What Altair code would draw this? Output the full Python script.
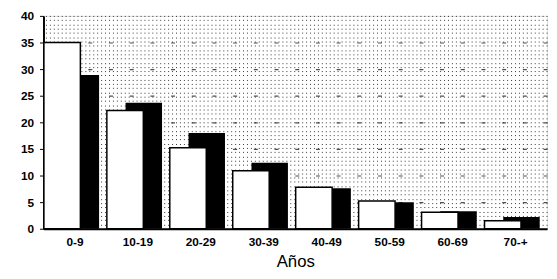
import altair as alt
import pandas as pd

categorias = ["0-9", "10-19", "20-29", "30-39", "40-49", "50-59", "60-69", "70-+"]
serie_blanca = [35.0, 22.2, 15.2, 10.9, 7.8, 5.2, 3.1, 1.5]
serie_negra = [28.9, 23.7, 18.0, 12.4, 7.6, 5.0, 3.3, 2.2]

df = pd.DataFrame({"cat": categorias, "blanca": serie_blanca, "negra": serie_negra})

FONT = "Liberation Sans"
xenc = alt.X("cat:N", sort=categorias, title="Años",
             scale=alt.Scale(paddingInner=0, paddingOuter=0),
             axis=alt.Axis(labelAngle=0, labelFont=FONT, labelFontSize=12, labelFontWeight="bold",
                           labelColor="black", titleFont=FONT, titleFontSize=17,
                           titleFontWeight="normal", titleColor="black", titlePadding=6,
                           ticks=False, domainColor="black", domainWidth=2, labelPadding=8))
yscale = alt.Scale(domain=[0, 40], nice=False)

dots = alt.Chart(df).mark_bar(opacity=0).encode(
    x=xenc,
    y=alt.Y("negra:Q", scale=yscale,
            axis=alt.Axis(orient="right", labels=False, ticks=False, domain=False, title=None,
                          values=[i * 0.8 for i in range(51)], grid=True, gridColor="#000",
                          gridDash=[1, 3], gridWidth=1, gridOpacity=0.8)),
)

dashes = alt.Chart(df).mark_bar(opacity=0).encode(
    x=xenc,
    y=alt.Y("negra:Q", scale=yscale,
            axis=alt.Axis(orient="right", labels=False, ticks=False, domain=False, title=None,
                          values=[5, 10, 15, 20, 25, 30, 35], grid=True, gridColor="#222",
                          gridDash=[4, 17], gridWidth=1.2, gridOpacity=0.8)),
)

negra = alt.Chart(df).mark_bar(width=37, xOffset=6, color="black").encode(
    x=xenc,
    y=alt.Y("negra:Q", scale=yscale,
            axis=alt.Axis(orient="left", values=[0, 5, 10, 15, 20, 25, 30, 35, 40], grid=False,
                          title=None, labelFont=FONT, labelFontSize=12, labelFontWeight="bold",
                          labelColor="black", domainColor="black", domainWidth=2,
                          tickColor="black", tickSize=4, labelPadding=6)),
)

blanca = alt.Chart(df).mark_bar(width=37, xOffset=-13, fill="white", stroke="black",
                                strokeWidth=1.5).encode(
    x=xenc,
    y=alt.Y("blanca:Q", scale=yscale, axis=None),
)

chart = alt.layer(dots, dashes, negra, blanca).resolve_axis(y="independent").properties(
    width=511, height=216,
    autosize=alt.AutoSizeParams(type="none"),
    padding={"left": 36, "top": 6, "right": 2, "bottom": 50},
).configure_view(stroke="black", strokeWidth=1.5).configure(background="white")

chart.save("out.html", embed_options={"renderer": "svg", "actions": False})
